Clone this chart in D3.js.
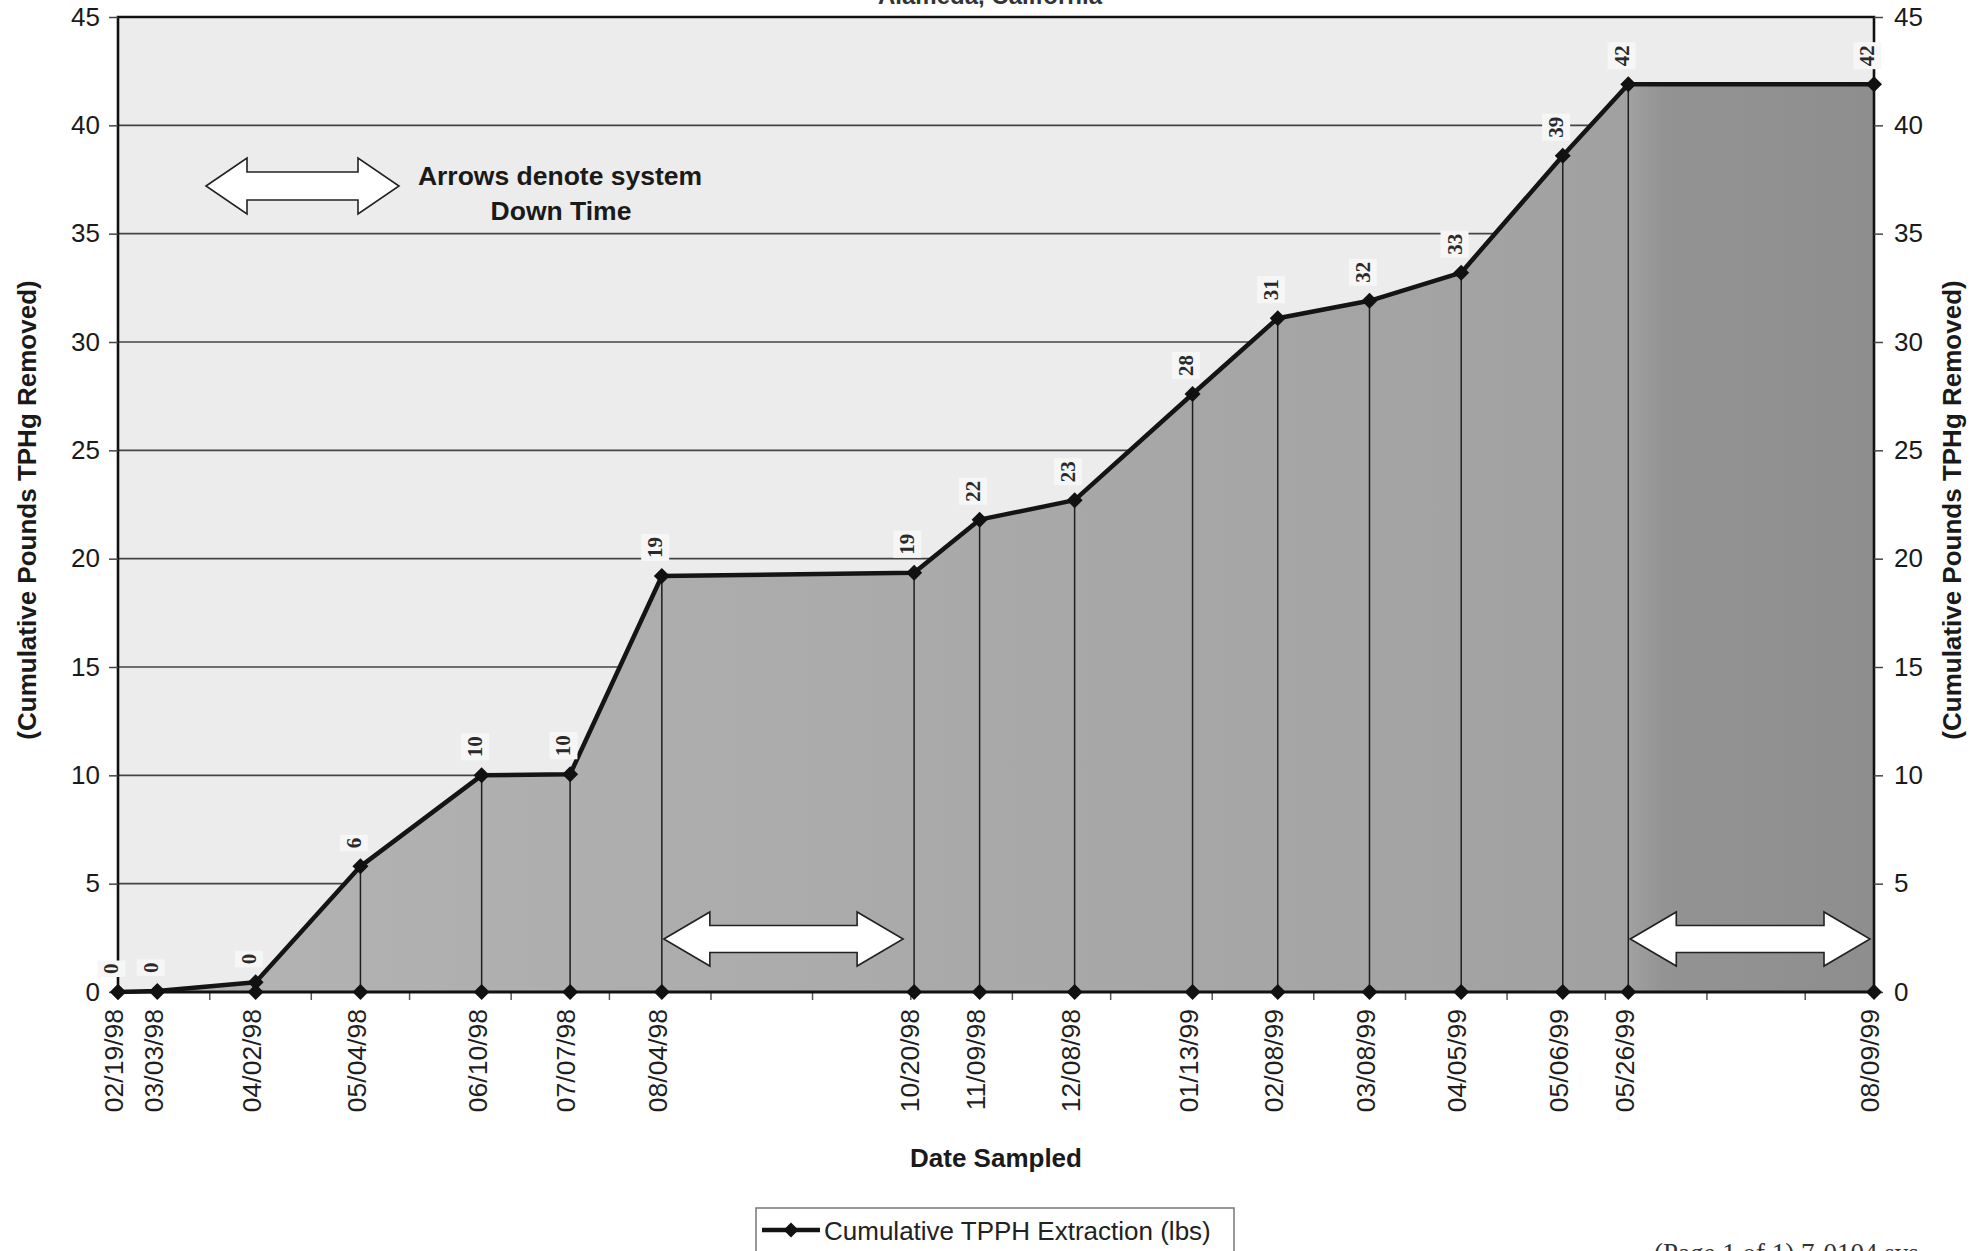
<!DOCTYPE html>
<html>
<head>
<meta charset="utf-8">
<script src="https://cdn.jsdelivr.net/npm/d3@7"></script>
<style>
  html, body { margin: 0; padding: 0; background: #ffffff; overflow: hidden; }
  svg { display: block; }
</style>
</head>
<body>
<svg id="chart" width="1980" height="1251"></svg>
<script>
// ---- data ----
const sampleDates = ["02/19/98", "03/03/98", "04/02/98", "05/04/98", "06/10/98", "07/07/98",
  "08/04/98", "10/20/98", "11/09/98", "12/08/98", "01/13/99", "02/08/99", "03/08/99",
  "04/05/99", "05/06/99", "05/26/99", "08/09/99"];
const cumulativeLbs = [0, 0.05, 0.45, 5.8, 10.0, 10.05, 19.2, 19.35, 21.8, 22.7, 27.6,
  31.1, 31.9, 33.2, 38.6, 41.9, 41.9];
const yTickValues = [0, 5, 10, 15, 20, 25, 30, 35, 40, 45];
const downTimeStart = ["08/04/98", "05/26/99"];
const downTimeEnd = ["10/20/98", "08/09/99"];
const seriesName = "Cumulative TPPH Extraction (lbs)";
const xTitle = "Date Sampled";
const yTitle = "(Cumulative Pounds TPHg Removed)";
const noteLines = ["Arrows denote system", "Down Time"];
const headerText = "Alameda, California";
const footerText = "(Page 1 of 1) 7-0104.sys";

// ---- setup ----
const parse = d3.timeParse("%m/%d/%y");
const fmt = d3.timeFormat("%m/%d/%y");
const data = sampleDates.map((d, i) => ({ date: parse(d), value: cumulativeLbs[i] }));

const plot = { left: 118, right: 1874, top: 17, bottom: 992 };
const x = d3.scaleTime().domain(d3.extent(data, d => d.date)).range([plot.left, plot.right]);
const y = d3.scaleLinear().domain([0, 45]).range([plot.bottom, plot.top]);

const svg = d3.select("#chart");
const SANS = "'Liberation Sans', Arial, sans-serif";
const SERIF = "'Liberation Serif', 'Times New Roman', serif";

const defs = svg.append("defs");
const grad = defs.append("linearGradient")
  .attr("id", "areaFill")
  .attr("gradientUnits", "userSpaceOnUse")
  .attr("x1", plot.left).attr("x2", plot.right).attr("y1", 0).attr("y2", 0);
[[0, "#b4b4b4"], [0.45, "#aaaaaa"], [0.86, "#a1a1a1"], [0.88, "#939393"], [1, "#8e8e8e"]]
  .forEach(([o, c]) => grad.append("stop").attr("offset", o).attr("stop-color", c));

// header line, running off the page top
svg.append("text")
  .attr("x", 990).attr("y", 4)
  .attr("text-anchor", "middle")
  .attr("font-family", SANS).attr("font-weight", "bold").attr("font-size", 24)
  .attr("fill", "#333")
  .text(headerText);

// plot background
svg.append("rect")
  .attr("x", plot.left).attr("y", plot.top)
  .attr("width", plot.right - plot.left).attr("height", plot.bottom - plot.top)
  .attr("fill", "#ececec");

// horizontal gridlines
svg.append("g").selectAll("line")
  .data(yTickValues.filter(v => v > 0 && v < 45))
  .join("line")
  .attr("x1", plot.left).attr("x2", plot.right)
  .attr("y1", d => y(d)).attr("y2", d => y(d))
  .attr("stroke", "#444").attr("stroke-width", 1.7);

// filled area under the cumulative curve
const area = d3.area().x(d => x(d.date)).y0(y(0)).y1(d => y(d.value));
svg.append("path").datum(data).attr("d", area).attr("fill", "url(#areaFill)");

// drop lines
svg.append("g").selectAll("line")
  .data(data)
  .join("line")
  .attr("x1", d => x(d.date)).attr("x2", d => x(d.date))
  .attr("y1", d => y(d.value)).attr("y2", y(0))
  .attr("stroke", "#1e1e1e").attr("stroke-width", 1.5);

// down-time arrows
function blockArrow(x0, x1, yc, headLen, headH, shaftH) {
  const hh = headH / 2, sh = shaftH / 2;
  return `M${x0},${yc} L${x0 + headLen},${yc - hh} L${x0 + headLen},${yc - sh} ` +
    `L${x1 - headLen},${yc - sh} L${x1 - headLen},${yc - hh} L${x1},${yc} ` +
    `L${x1 - headLen},${yc + hh} L${x1 - headLen},${yc + sh} L${x0 + headLen},${yc + sh} ` +
    `L${x0 + headLen},${yc + hh} Z`;
}
const downTimes = downTimeStart.map((s, i) => ({ start: parse(s), end: parse(downTimeEnd[i]) }));
svg.append("g").selectAll("path")
  .data(downTimes)
  .join("path")
  .attr("d", (d, i) => blockArrow(x(d.start) + 2, x(d.end) - (i === 0 ? 11 : 4), y(0) - 53, 46, 54, 27))
  .attr("fill", "#ffffff").attr("stroke", "#222").attr("stroke-width", 1.6)
  .attr("stroke-linejoin", "miter");

// note arrow and text
svg.append("path")
  .attr("d", blockArrow(206, 399, 186, 41, 56, 28))
  .attr("fill", "#ffffff").attr("stroke", "#222").attr("stroke-width", 1.6);
svg.append("text")
  .attr("x", 560).attr("y", 185)
  .attr("text-anchor", "middle")
  .attr("font-family", SANS).attr("font-weight", "bold").attr("font-size", 26.5)
  .attr("fill", "#1a1a1a")
  .text(noteLines[0]);
svg.append("text")
  .attr("x", 561).attr("y", 220)
  .attr("text-anchor", "middle")
  .attr("font-family", SANS).attr("font-weight", "bold").attr("font-size", 26.5)
  .attr("fill", "#1a1a1a")
  .text(noteLines[1]);

// month ticks under the date axis
const monthTicks = d3.range(1, 19).map(k => d3.timeMonth.offset(x.domain()[0], k))
  .filter(d => d < x.domain()[1]);
svg.append("g").selectAll("line")
  .data(monthTicks)
  .join("line")
  .attr("x1", d => x(d)).attr("x2", d => x(d))
  .attr("y1", y(0)).attr("y2", y(0) + 8)
  .attr("stroke", "#555").attr("stroke-width", 1.5);

// frame
svg.append("path")
  .attr("d", `M${plot.left},${plot.bottom} L${plot.left},${plot.top} L${plot.right},${plot.top} L${plot.right},${plot.bottom}`)
  .attr("fill", "none").attr("stroke", "#111").attr("stroke-width", 2.6);
svg.append("line")
  .attr("x1", plot.left).attr("x2", plot.right)
  .attr("y1", y(0)).attr("y2", y(0))
  .attr("stroke", "#111").attr("stroke-width", 3);

// y axes (left and right)
const yLeft = svg.append("g").attr("transform", `translate(${plot.left},0)`)
  .call(d3.axisLeft(y).tickValues(yTickValues).tickSize(9).tickPadding(9));
const yRight = svg.append("g").attr("transform", `translate(${plot.right},0)`)
  .call(d3.axisRight(y).tickValues(yTickValues).tickSize(9).tickPadding(11));
[yLeft, yRight].forEach(g => {
  g.select(".domain").remove();
  g.selectAll(".tick line").attr("stroke", "#444").attr("stroke-width", 1.5);
  g.selectAll(".tick text")
    .attr("font-family", SANS).attr("font-size", 26).attr("fill", "#1a1a1a");
});

// cumulative line with markers
const line = d3.line().x(d => x(d.date)).y(d => y(d.value));
svg.append("path").datum(data).attr("d", line)
  .attr("fill", "none").attr("stroke", "#141414").attr("stroke-width", 4.5)
  .attr("stroke-linejoin", "round");

const diamond = r => `M0,${-r} L${r},0 L0,${r} L${-r},0 Z`;
svg.append("g").selectAll("path")
  .data(data)
  .join("path")
  .attr("transform", d => `translate(${x(d.date)},${y(d.value)})`)
  .attr("d", diamond(8)).attr("fill", "#111");
svg.append("g").selectAll("path")
  .data(data)
  .join("path")
  .attr("transform", d => `translate(${x(d.date)},${y(0)})`)
  .attr("d", diamond(8)).attr("fill", "#111");

// value labels
const labelFmt = d3.format(".0f");
const valueLabels = svg.append("g").selectAll("g")
  .data(data)
  .join("g")
  .attr("transform", d => `translate(${x(d.date) - 7},${y(d.value) - 18}) rotate(-90)`);
valueLabels.append("text")
  .attr("text-anchor", "start").attr("dy", "0.35em")
  .attr("font-family", SERIF).attr("font-weight", "bold").attr("font-size", 21)
  .attr("fill", "#2a2a2a")
  .text(d => labelFmt(d.value));
valueLabels.each(function () {
  const g = d3.select(this);
  const b = g.select("text").node().getBBox();
  g.insert("rect", "text")
    .attr("x", b.x - 3).attr("y", b.y - 2)
    .attr("width", b.width + 6).attr("height", b.height + 4)
    .attr("fill", "#f6f6f6");
});

// date labels
svg.append("g").selectAll("text")
  .data(data)
  .join("text")
  .attr("transform", d => `translate(${x(d.date) - 4},1009) rotate(-90)`)
  .attr("text-anchor", "end").attr("dy", "0.35em")
  .attr("font-family", SANS).attr("font-size", 26.5).attr("fill", "#1e1e1e")
  .text(d => fmt(d.date));

// axis titles
svg.append("text")
  .attr("x", 996).attr("y", 1167)
  .attr("text-anchor", "middle")
  .attr("font-family", SANS).attr("font-weight", "bold").attr("font-size", 26)
  .attr("fill", "#1a1a1a")
  .text(xTitle);
[27, 1952].forEach(cx => {
  svg.append("text")
    .attr("transform", `translate(${cx},510) rotate(-90)`)
    .attr("text-anchor", "middle").attr("dy", "0.35em")
    .attr("font-family", SANS).attr("font-weight", "bold").attr("font-size", 26)
    .attr("fill", "#1a1a1a")
    .text(yTitle);
});

// legend
const legend = svg.append("g");
legend.append("rect")
  .attr("x", 756).attr("y", 1208).attr("width", 478).attr("height", 50)
  .attr("fill", "#ffffff").attr("stroke", "#777").attr("stroke-width", 1.5);
legend.append("line")
  .attr("x1", 762).attr("x2", 820).attr("y1", 1230).attr("y2", 1230)
  .attr("stroke", "#141414").attr("stroke-width", 4.5);
legend.append("path")
  .attr("transform", "translate(791,1230)")
  .attr("d", diamond(7.5)).attr("fill", "#111");
legend.append("text")
  .attr("x", 824).attr("y", 1240)
  .attr("font-family", SANS).attr("font-size", 26).attr("fill", "#222")
  .text(seriesName);

// footer, running off the page bottom
svg.append("text")
  .attr("x", 1654).attr("y", 1262)
  .attr("font-family", SERIF).attr("font-size", 27).attr("fill", "#333")
  .text(footerText);
</script>
</body>
</html>
